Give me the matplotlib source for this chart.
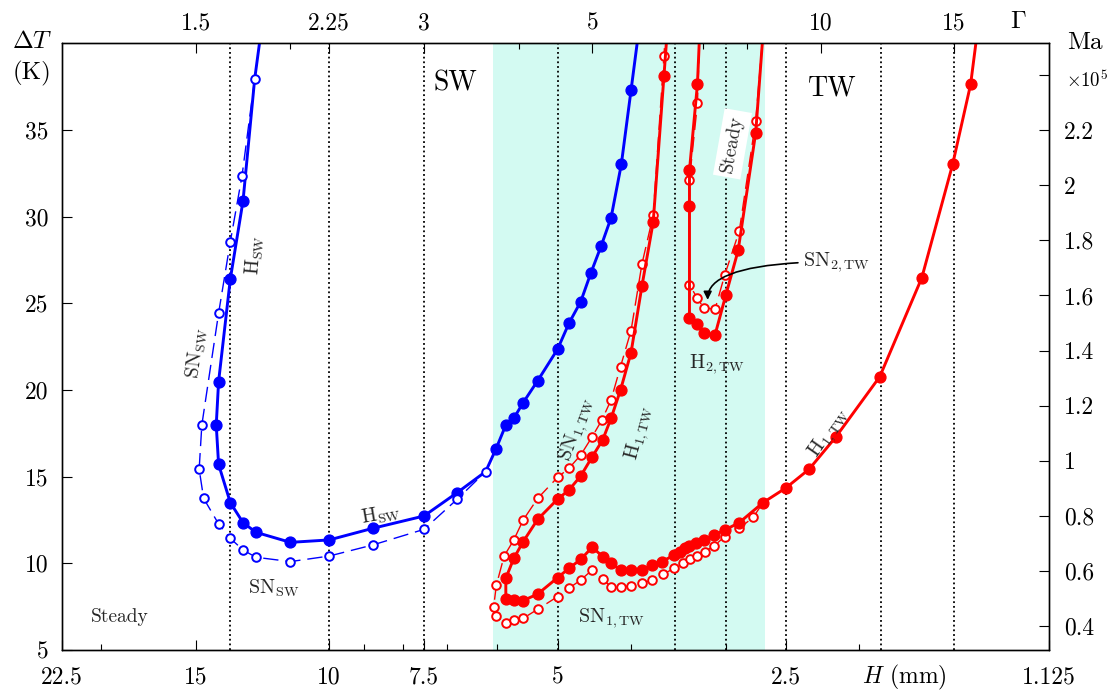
import numpy as np
import matplotlib.pyplot as plt
from matplotlib.ticker import FixedLocator, NullFormatter

plt.rcParams['font.family'] = 'cmr10'
plt.rcParams['mathtext.fontset'] = 'cm'
plt.rcParams['axes.formatter.use_mathtext'] = True

BLUE = '#0000ff'
RED = '#ff0000'
CYAN = '#d3faf2'
TXT = '#262626'

# --- data: H (mm) and Delta T (K) ---
# standing waves, H_SW (solid, filled)
hsw_H = [12.27, 12.54, 12.99, 13.50, 13.99, 14.09, 13.99, 13.50, 12.99, 12.49, 11.25, 10.00,
         8.76, 7.50, 6.78, 6.22, 6.03, 5.85, 5.71, 5.55, 5.31, 5.00, 4.83, 4.66, 4.52, 4.38,
         4.25, 4.12, 4.00, 3.90]
hsw_dT = [41.0, 37.92, 30.91, 26.41, 20.48, 17.98, 15.71, 13.50, 12.35, 11.79, 11.21, 11.35,
          12.02, 12.73, 14.08, 15.29, 16.58, 17.98, 18.37, 19.27, 20.54, 22.35, 23.85, 25.10,
          26.74, 28.31, 29.94, 33.02, 37.30, 41.0]
hsw_nomark = [1, 15]

# standing waves, SN_SW (dashed, open)
snsw_H = [12.54, 13.03, 13.50, 13.99, 14.72, 14.84, 14.64, 13.99, 13.50, 12.99, 12.49, 11.25,
          10.00, 8.76, 7.50, 6.78, 6.22]
snsw_dT = [37.92, 32.35, 28.56, 24.43, 17.98, 15.43, 13.75, 12.27, 11.44, 10.77, 10.35, 10.10,
           10.42, 11.06, 11.96, 13.70, 15.29]

# travelling waves, H_1,TW (solid, filled)
h1tw_H = [3.58, 3.62, 3.74, 3.87, 4.00, 4.13, 4.25, 4.36, 4.50, 4.66, 4.83, 5.00, 5.31, 5.55,
          5.71, 5.85, 5.85, 5.71, 5.55, 5.31, 5.00, 4.83, 4.66, 4.50, 4.36, 4.25, 4.13, 4.00,
          3.87, 3.75, 3.64, 3.51, 3.45, 3.40, 3.35, 3.28, 3.21, 3.11, 3.01, 2.88, 2.68, 2.50,
          2.33, 2.15, 1.88, 1.655, 1.507, 1.427, 1.395]
h1tw_dT = [41.0, 38.11, 29.69, 26.00, 22.16, 20.00, 18.37, 17.12, 16.15, 15.04, 14.23, 13.70,
           12.54, 11.25, 10.29, 9.14, 7.92, 7.885, 7.85, 8.23, 9.17, 9.71, 10.23, 10.93, 10.39,
           10.00, 9.62, 9.62, 9.62, 9.90, 10.10, 10.48, 10.67, 10.87, 11.00, 11.16, 11.35, 11.64,
           11.92, 12.35, 13.50, 14.35, 15.43, 17.27, 20.77, 26.47, 33.02, 37.63, 41.0]

# travelling waves, SN_1,TW (dashed, open)
sn1tw_H = [3.60, 3.62, 3.74, 3.87, 4.00, 4.13, 4.25, 4.37, 4.50, 4.66, 4.83, 5.00, 5.31, 5.55,
           5.71, 5.88, 6.02, 6.07, 6.02, 5.85, 5.71, 5.55, 5.31, 5.00, 4.83, 4.66, 4.50, 4.36,
           4.25, 4.13, 4.00, 3.87, 3.75, 3.63, 3.51, 3.42, 3.34, 3.27, 3.20, 3.11, 3.01, 2.88,
           2.76, 2.68]
sn1tw_dT = [41.0, 39.27, 30.08, 27.27, 23.43, 21.35, 19.43, 18.27, 17.31, 16.25, 15.48, 14.96,
            13.75, 12.50, 11.35, 10.42, 8.75, 7.50, 6.96, 6.58, 6.73, 6.83, 7.35, 8.08, 8.56,
            9.04, 9.62, 9.08, 8.65, 8.65, 8.69, 8.85, 9.04, 9.37, 9.71, 10.04, 10.23, 10.42,
            10.67, 11.00, 11.54, 12.02, 12.66, 13.50]

# H_2,TW (solid, filled) and SN_2,TW (dashed, open)
h2tw_H = [3.245, 3.27, 3.35, 3.35, 3.35, 3.27, 3.21, 3.10, 3.00, 2.89, 2.74, 2.675]
h2tw_dT = [41.0, 37.65, 32.68, 30.62, 24.14, 23.81, 23.27, 23.18, 25.48, 28.05, 34.84, 41.0]
sn2tw_H = [3.245, 3.27, 3.35, 3.35, 3.27, 3.21, 3.10, 3.01, 2.88, 2.74, 2.675]
sn2tw_dT = [41.0, 36.53, 32.14, 26.06, 25.29, 24.75, 24.66, 26.64, 29.17, 35.53, 41.0]

# experiment heights (dotted lines) and TW shaded band
exp_H = [13.5, 10, 7.5, 5, 3.5, 3, 2.5, 1.875, 1.5]
band_H = (6.08, 2.66)

# axes ticks
H_major = [22.5, 15, 10, 7.5, 5, 2.5, 1.125]
H_labels = ['22.5', '15', '10', '7.5', '5', '2.5', '1.125']
H_minor = [20, 9, 8, 7, 6, 4, 3, 2]
G_major = [1.5, 2.25, 3, 5, 10, 15]
G_labels = ['1.5', '2.25', '3', '5', '10', '15']
G_minor = [2, 4, 7, 8]
dT_ticks = [5, 10, 15, 20, 25, 30, 35]
Ma_ticks = [0.4, 0.6, 0.8, 1.0, 1.2, 1.4, 1.6, 1.8, 2.0, 2.2, 2.4]
Ma_labels = ['0.4', '0.6', '0.8', '1', '1.2', '1.4', '1.6', '1.8', '2', '2.2', '']
MA_PER_K = 2.2 / 35.0
GAMMA_H = 22.5

fig = plt.figure(figsize=(11.12, 6.92), dpi=100)
ax = fig.add_axes([0.0558, 0.0607, 0.9433 - 0.0558, 0.9374 - 0.0607])

ax.set_xscale('log')
ax.set_xlim(22.5, 1.125)
ax.set_ylim(5, 40)

ax.axvspan(band_H[0], band_H[1], color=CYAN, lw=0, zorder=0)
for h in exp_H:
    ax.axvline(h, color='k', ls=(0, (1, 1.6)), lw=1.3, zorder=1)

dash = (0, (11, 5))
ax.plot(hsw_H, hsw_dT, '-', color=BLUE, lw=2.1, marker='o', ms=7.8,
        markevery=[i for i in range(len(hsw_H)) if i not in hsw_nomark], zorder=3)
ax.plot(snsw_H, snsw_dT, color=BLUE, ls=dash, lw=1.0, marker='o', ms=6.2,
        mfc='white', mec=BLUE, mew=1.4, zorder=4)

ax.plot(sn1tw_H, sn1tw_dT, color=RED, ls=dash, lw=1.0, marker='o', ms=6.2,
        mfc='white', mec=RED, mew=1.4, markevery=list(range(len(sn1tw_H) - 1)), zorder=3)
ax.plot(h1tw_H, h1tw_dT, '-', color=RED, lw=2.1, marker='o', ms=7.8, zorder=4)
ax.plot(sn2tw_H, sn2tw_dT, color=RED, ls=dash, lw=1.0, marker='o', ms=6.2,
        mfc='white', mec=RED, mew=1.4, zorder=3)
ax.plot(h2tw_H, h2tw_dT, '-', color=RED, lw=2.1, marker='o', ms=7.8, zorder=4)

# bottom axis: H
ax.xaxis.set_major_locator(FixedLocator(H_major))
ax.set_xticklabels(H_labels)
ax.xaxis.set_minor_locator(FixedLocator(H_minor))
ax.xaxis.set_minor_formatter(NullFormatter())
ax.set_yticks(dT_ticks)
ax.set_yticklabels([str(t) for t in dT_ticks])
ax.tick_params(axis='x', which='major', direction='in', length=7, width=0.8, labelsize=17, pad=12)
ax.tick_params(axis='x', which='minor', direction='in', length=4, width=0.8)
ax.tick_params(axis='y', which='major', direction='in', length=7, width=0.8, labelsize=17, pad=10)

# top axis: Gamma = 22.5 / H
axt = ax.twiny()
axt.set_xscale('log')
axt.set_xlim(ax.get_xlim())
axt.xaxis.set_major_locator(FixedLocator([GAMMA_H / g for g in G_major]))
axt.xaxis.set_minor_locator(FixedLocator([GAMMA_H / g for g in G_minor]))
axt.set_xticklabels(G_labels)
axt.xaxis.set_minor_formatter(NullFormatter())
axt.tick_params(axis='x', which='major', direction='in', length=7, width=0.8, labelsize=17, pad=6)
axt.tick_params(axis='x', which='minor', direction='in', length=4, width=0.8)

# right axis: Ma
axr = ax.twinx()
axr.set_ylim(ax.get_ylim())
axr.set_yticks([m / MA_PER_K for m in Ma_ticks])
axr.set_yticklabels(Ma_labels)
axr.tick_params(axis='y', which='major', direction='in', length=7, width=0.8, labelsize=17, pad=11)
axr.yaxis.set_minor_locator(FixedLocator([]))

for a in (ax, axt, axr):
    for s in a.spines.values():
        s.set_linewidth(0.9)

# axis titles
ax.text(-0.03, 1.003, r'$\Delta T$', transform=ax.transAxes, ha='center', va='center', fontsize=18)
ax.text(-0.03, 0.951, '(K)', transform=ax.transAxes, ha='center', va='center', fontsize=18)
ax.text(1.036, 1.0, 'Ma', transform=ax.transAxes, ha='center', va='center', fontsize=18)
ax.text(1.039, 0.939, r'$\times 10^5$', transform=ax.transAxes, ha='center', va='center', fontsize=13.5)
ax.text(0.969, 1.036, r'$\Gamma$', transform=ax.transAxes, ha='center', va='center', fontsize=18)
ax.text(0.854, -0.046, r'$H$ (mm)', transform=ax.transAxes, ha='center', va='center', fontsize=17)

# region labels
ax.text(6.82, 37.7, 'SW', ha='center', va='center', fontsize=20, zorder=6)
ax.text(2.17, 37.4, 'TW', ha='center', va='center', fontsize=20, zorder=6)
ax.text(18.86, 6.9, 'Steady', ha='center', va='center', fontsize=14, color=TXT, zorder=6)
ax.text(2.94, 34.2, 'Steady', ha='center', va='center', fontsize=14, color=TXT, rotation=80,
        rotation_mode='anchor', zorder=6,
        bbox=dict(boxstyle='square,pad=0.25', fc='white', ec='none'))

# curve labels
kw = dict(ha='center', va='center', fontsize=14.5, color=TXT, rotation_mode='anchor', zorder=6)
ax.text(12.51, 27.8, r'H$_{\rm SW}$', rotation=85, **kw)
ax.text(14.94, 22.1, r'SN$_{\rm SW}$', rotation=82, **kw)
ax.text(8.56, 12.8, r'H$_{\rm SW}$', rotation=10, **kw)
ax.text(11.84, 8.56, r'SN$_{\rm SW}$', rotation=0, **kw)
ax.text(4.71, 17.7, r'SN$_{1,\rm TW}$', rotation=70, **kw)
ax.text(3.90, 17.5, r'H$_{1,\rm TW}$', rotation=75, **kw)
ax.text(2.19, 17.5, r'H$_{1,\rm TW}$', rotation=55, **kw)
ax.text(3.08, 21.5, r'H$_{2,\rm TW}$', rotation=0, **kw)
ax.text(4.25, 6.83, r'SN$_{1,\rm TW}$', rotation=0, **kw)
ax.annotate(r'SN$_{2,\rm TW}$', xy=(3.17, 25.2), xytext=(2.37, 27.4),
            ha='left', va='center', fontsize=14.5, color=TXT, zorder=6,
            arrowprops=dict(arrowstyle='-|>', color='k', lw=1.2, mutation_scale=12,
                            shrinkA=2, shrinkB=0,
                            connectionstyle='angle3,angleA=0,angleB=90'))

fig.savefig('out.png', dpi=100)
